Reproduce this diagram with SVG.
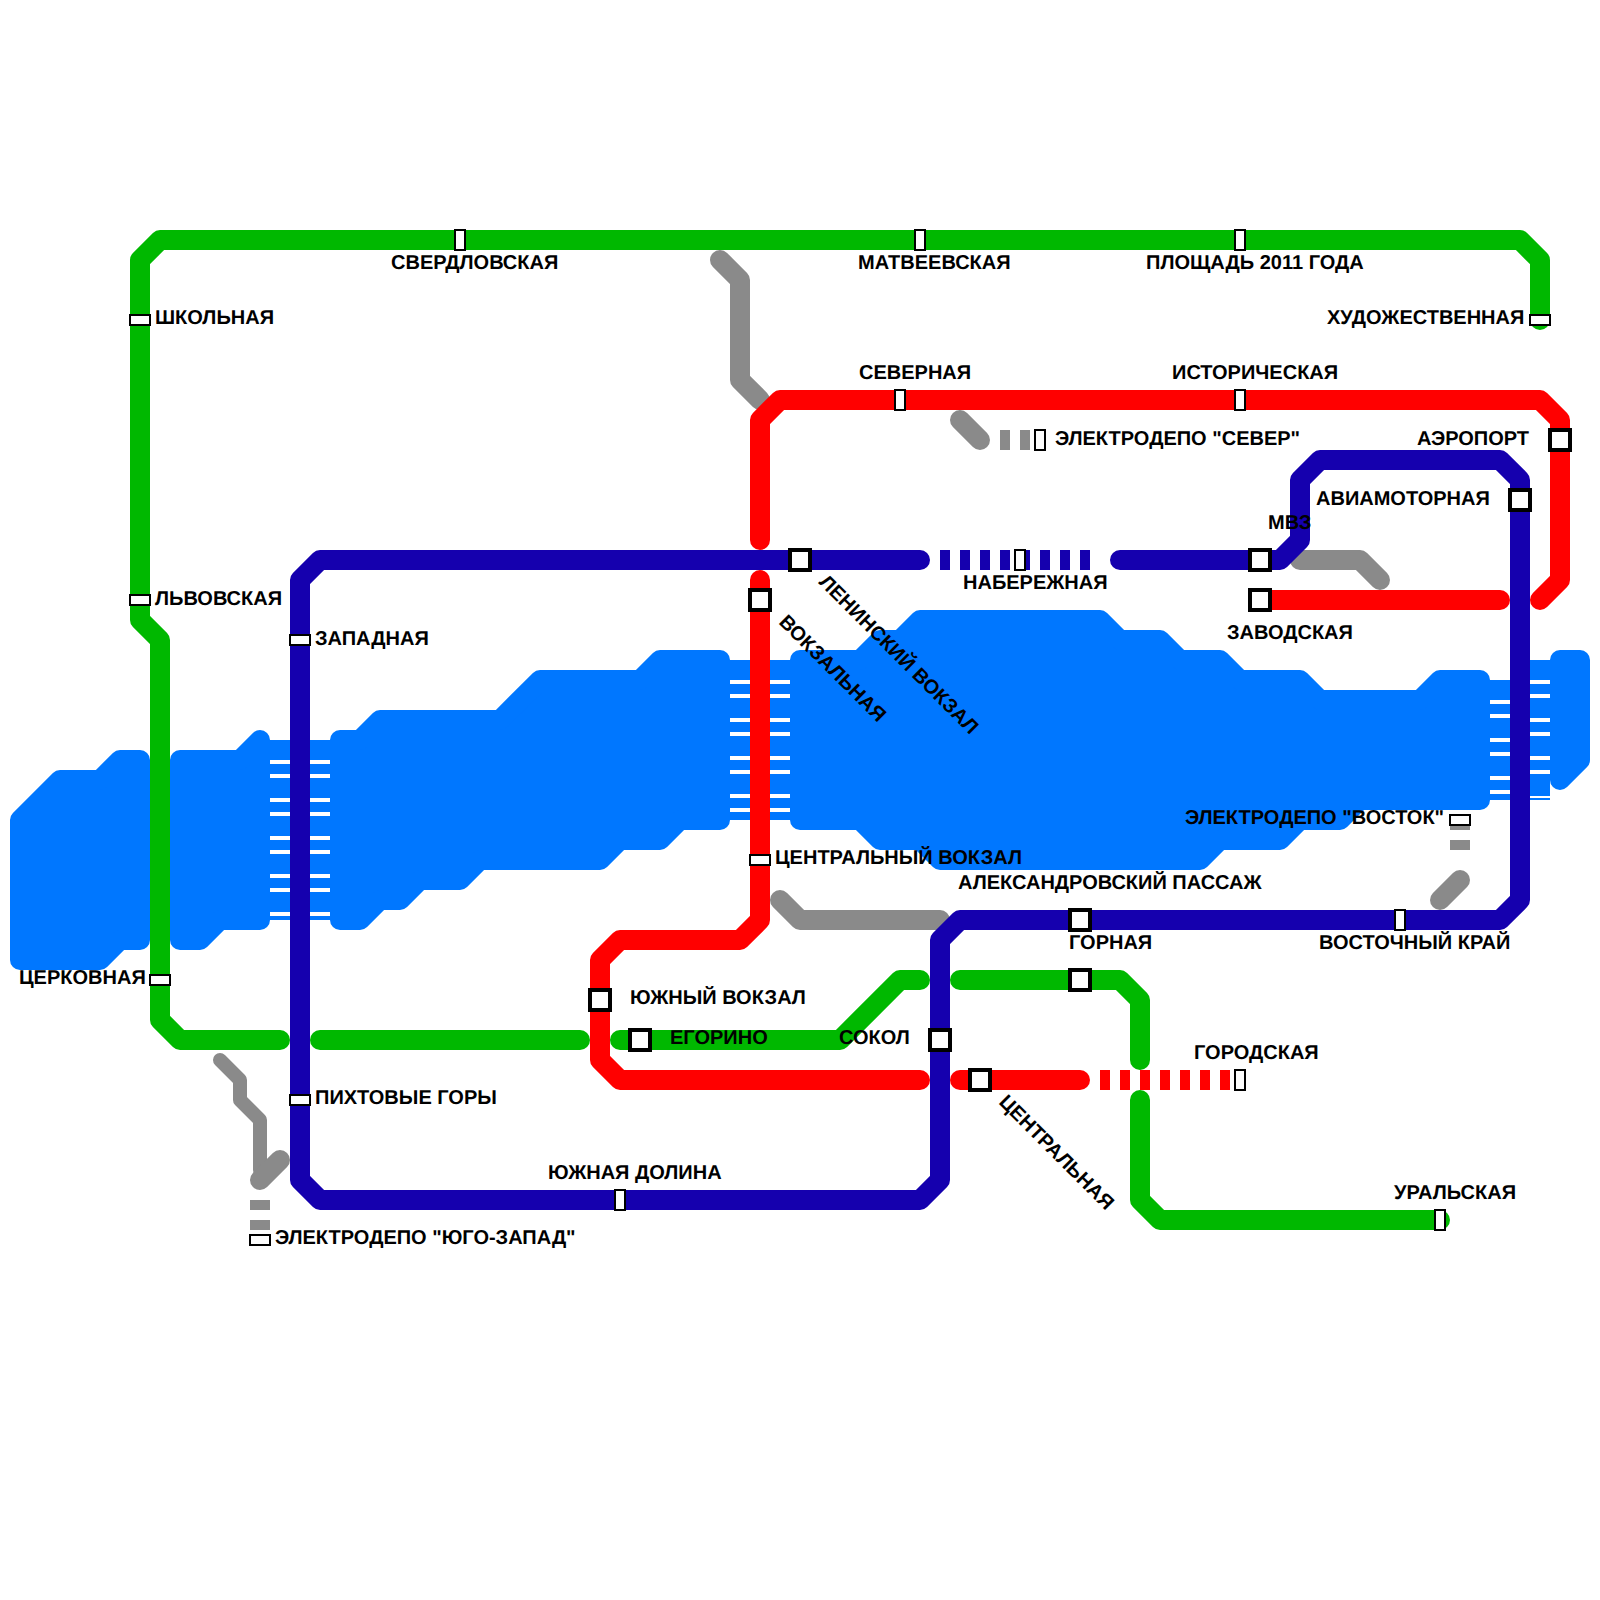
<svg xmlns="http://www.w3.org/2000/svg" width="1600" height="1600" viewBox="0 0 1600 1600">
<style>
text{font-family:"Liberation Sans",Arial,sans-serif;font-weight:bold;font-size:20px;fill:#000;text-rendering:geometricPrecision}
.w{fill:#0077ff;stroke:#0077ff;stroke-width:20;stroke-linejoin:round}
.b{fill:#0077ff}
.st{fill:#fff}
.l{fill:none;stroke-width:20;stroke-linecap:round;stroke-linejoin:round}
.d{fill:none;stroke-width:20;stroke-dasharray:10 10}
.g{stroke:#00b800}.r{stroke:#ff0000}.n{stroke:#1500ae}.y{stroke:#8a8a8a}
.t{stroke-width:14}
.a{fill:#fff;stroke:#000;stroke-width:2}
.c{fill:#fff;stroke:#000;stroke-width:4}
</style>
<defs>
<rect id="h" class="a" x="-10" y="-5" width="20" height="10"/>
<rect id="v" class="a" x="-5" y="-10" width="10" height="20"/>
<rect id="s" class="c" x="-10" y="-10" width="20" height="20"/>
</defs>
<g id="water">
<polygon class="w" points="20,820 60,780 100,780 120,760 140,760 140,940 120,940 100,960 20,960"/>
<polygon class="w" points="180,760 240,760 260,740 260,920 220,920 200,940 180,940"/>
<polygon class="w" points="340,740 360,740 380,720 500,720 540,680 640,680 660,660 720,660 720,820 680,820 660,840 620,840 600,860 480,860 460,880 420,880 400,900 380,900 360,920 340,920"/>
<polygon class="w" points="800,660 860,660 880,640 900,640 920,620 1100,620 1120,640 1160,640 1180,660 1220,660 1240,680 1300,680 1320,700 1420,700 1440,680 1480,680 1480,800 1360,800 1340,820 1300,820 1280,840 1220,840 1200,860 940,860 920,840 880,840 860,820 800,820"/>
<polygon class="w" points="1560,660 1580,660 1580,760 1560,780"/>
<rect class="b" x="270" y="740" width="60" height="180"/>
<rect class="b" x="730" y="660" width="60" height="160"/>
<rect class="b" x="1490" y="680" width="20" height="120"/>
<rect class="b" x="1530" y="660" width="20" height="140"/>
<path class="st" d="M270 760h60v4h-60zM270 774h60v4h-60zM270 798h60v4h-60zM270 812h60v4h-60zM270 836h60v4h-60zM270 850h60v4h-60zM270 874h60v4h-60zM270 888h60v4h-60zM270 912h60v4h-60z"/>
<path class="st" d="M730 680h60v4h-60zM730 694h60v4h-60zM730 718h60v4h-60zM730 732h60v4h-60zM730 756h60v4h-60zM730 770h60v4h-60zM730 794h60v4h-60zM730 808h60v4h-60z"/>
<path class="st" d="M1490 700h20v4h-20zM1490 714h20v4h-20zM1490 738h20v4h-20zM1490 752h20v4h-20zM1490 776h20v4h-20zM1490 790h20v4h-20z"/>
<path class="st" d="M1530 680h20v4h-20zM1530 694h20v4h-20zM1530 718h20v4h-20zM1530 732h20v4h-20zM1530 756h20v4h-20zM1530 770h20v4h-20zM1530 796h20v2h-20z"/>
</g>
<g id="connectors">
<path class="l y" d="M720 260L740 280V380L760 400"/>
<path class="l y" d="M960 420L980 440"/>
<path class="l y" d="M1300 560H1360L1380 580"/>
<path class="l y" d="M780 900L800 920H940"/>
<path class="l y" d="M1460 880L1440 900"/>
<path class="l y t" d="M220 1060L240 1080V1100L260 1120V1170"/>
<path class="l y" d="M260 1180L280 1160"/>
<path class="d y" d="M1000 440H1040"/>
<path class="d y" d="M1460 850V810" />
<path class="d y" d="M260 1200V1240"/>
<path class="l g" d="M1540 320V260L1520 240H160L140 260V620L160 640V1020L180 1040H280"/>
<path class="l g" d="M320 1040H580"/>
<path class="l g" d="M620 1040H840L900 980H920"/>
<path class="l g" d="M960 980H1120L1140 1000V1060"/>
<path class="l g" d="M1140 1100V1200L1160 1220H1440"/>
<path class="l r" d="M760 540V420L780 400H1540L1560 420V580L1540 600"/>
<path class="l r" d="M1260 600H1500"/>
<path class="l r" d="M760 580V920L740 940H620L600 960V1060L620 1080H920"/>
<path class="l r" d="M960 1080H1080"/>
<path class="d r" d="M1100 1080H1240"/>
<path class="l n" d="M920 560H320L300 580V1180L320 1200H920L940 1180V940L960 920H1500L1520 900V480L1500 460H1320L1300 480V540L1280 560H1120"/>
<path class="d n" d="M940 560H1100"/>
</g>
<g id="st-sverdlovskaya"><use href="#v" x="460" y="240"/><text x="391" y="269">СВЕРДЛОВСКАЯ</text></g>
<g id="st-matveevskaya"><use href="#v" x="920" y="240"/><text x="858" y="269">МАТВЕЕВСКАЯ</text></g>
<g id="st-ploshchad"><use href="#v" x="1240" y="240"/><text x="1146" y="269">ПЛОЩАДЬ 2011 ГОДА</text></g>
<g id="st-shkolnaya"><use href="#h" x="140" y="320"/><text x="155" y="324">ШКОЛЬНАЯ</text></g>
<g id="st-khudozhestvennaya"><use href="#h" x="1540" y="320"/><text x="1327" y="324">ХУДОЖЕСТВЕННАЯ</text></g>
<g id="st-severnaya"><use href="#v" x="900" y="400"/><text x="859" y="379">СЕВЕРНАЯ</text></g>
<g id="st-istoricheskaya"><use href="#v" x="1240" y="400"/><text x="1172" y="379">ИСТОРИЧЕСКАЯ</text></g>
<g id="depot-sever"><use href="#v" x="1040" y="440"/><text x="1055" y="445">ЭЛЕКТРОДЕПО "СЕВЕР"</text></g>
<g id="st-aeroport"><use href="#s" x="1560" y="440"/><text x="1417" y="445">АЭРОПОРТ</text></g>
<g id="st-aviamotornaya"><use href="#s" x="1520" y="500"/><text x="1316" y="505">АВИАМОТОРНАЯ</text></g>
<g id="st-mvz"><use href="#s" x="1260" y="560"/><text x="1268" y="529">МВЗ</text></g>
<g id="st-zavodskaya"><use href="#s" x="1260" y="600"/><text x="1227" y="639">ЗАВОДСКАЯ</text></g>
<g id="st-naberezhnaya"><use href="#v" x="1020" y="560"/><text x="963" y="589">НАБЕРЕЖНАЯ</text></g>
<g id="st-leninsky"><use href="#s" x="800" y="560"/><text transform="translate(818 583) rotate(45)">ЛЕНИНСКИЙ ВОКЗАЛ</text></g>
<g id="st-vokzalnaya"><use href="#s" x="760" y="600"/><text transform="translate(778 623) rotate(45)">ВОКЗАЛЬНАЯ</text></g>
<g id="st-lvovskaya"><use href="#h" x="140" y="600"/><text x="155" y="605">ЛЬВОВСКАЯ</text></g>
<g id="st-zapadnaya"><use href="#h" x="300" y="640"/><text x="315" y="645">ЗАПАДНАЯ</text></g>
<g id="st-tsentr-vokzal"><use href="#h" x="760" y="860"/><text x="775" y="864">ЦЕНТРАЛЬНЫЙ ВОКЗАЛ</text></g>
<g id="st-aleksandrovsky"><text x="958" y="889">АЛЕКСАНДРОВСКИЙ ПАССАЖ</text></g>
<g id="depot-vostok"><use href="#h" x="1460" y="820"/><text x="1185" y="824">ЭЛЕКТРОДЕПО "ВОСТОК"</text></g>
<g id="st-gornaya"><use href="#s" x="1080" y="920"/><text x="1069" y="949">ГОРНАЯ</text></g>
<g id="st-aleks-green"><use href="#s" x="1080" y="980"/></g>
<g id="st-vostochny"><use href="#v" x="1400" y="920"/><text x="1319" y="949">ВОСТОЧНЫЙ КРАЙ</text></g>
<g id="st-tserkovnaya"><use href="#h" x="160" y="980"/><text x="19" y="984">ЦЕРКОВНАЯ</text></g>
<g id="st-yuzhny-vokzal"><use href="#s" x="600" y="1000"/><text x="630" y="1004">ЮЖНЫЙ ВОКЗАЛ</text></g>
<g id="st-egorino"><use href="#s" x="640" y="1040"/><text x="670" y="1044">ЕГОРИНО</text></g>
<g id="st-sokol"><use href="#s" x="940" y="1040"/><text x="839" y="1044">СОКОЛ</text></g>
<g id="st-tsentralnaya"><use href="#s" x="980" y="1080"/><text transform="translate(998 1103) rotate(45)">ЦЕНТРАЛЬНАЯ</text></g>
<g id="st-gorodskaya"><use href="#v" x="1240" y="1080"/><text x="1194" y="1059">ГОРОДСКАЯ</text></g>
<g id="st-pikhtovye"><use href="#h" x="300" y="1100"/><text x="315" y="1104">ПИХТОВЫЕ ГОРЫ</text></g>
<g id="st-yuzhnaya-dolina"><use href="#v" x="620" y="1200"/><text x="548" y="1179">ЮЖНАЯ ДОЛИНА</text></g>
<g id="st-uralskaya"><use href="#v" x="1440" y="1220"/><text x="1394" y="1199">УРАЛЬСКАЯ</text></g>
<g id="depot-yugo-zapad"><use href="#h" x="260" y="1240"/><text x="275" y="1244">ЭЛЕКТРОДЕПО "ЮГО-ЗАПАД"</text></g>
</svg>
